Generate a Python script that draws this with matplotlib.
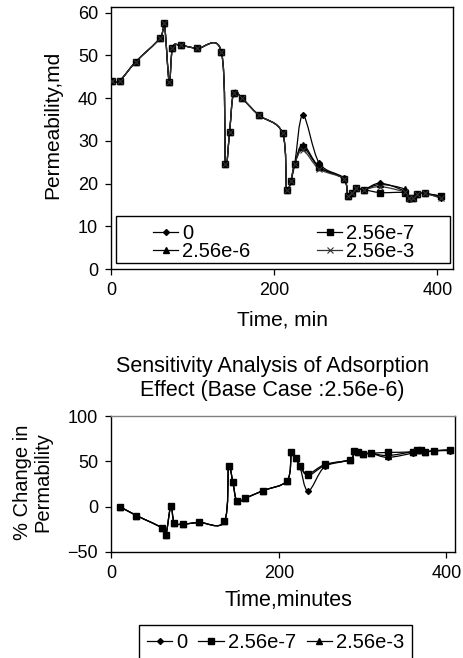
import numpy as np
import matplotlib
matplotlib.use('Agg')
import matplotlib.pyplot as plt
from matplotlib.path import Path
from matplotlib.patches import PathPatch, Rectangle
from matplotlib.lines import Line2D

plt.rcParams['font.family'] = ['Liberation Sans', 'DejaVu Sans']

# Data
time_min = [1, 10, 30, 60, 65, 71, 75, 85, 105, 135, 140, 145, 150, 160, 181, 210,
            215, 220, 225, 235, 255, 285, 290, 295, 300, 310, 330, 360, 365, 370,
            375, 385, 404]

perm_0 = [44, 44, 48.5, 54.1, 57.6, 43.7, 51.8, 52.3, 51.6, 50.8, 24.5, 32, 41.3, 40,
          36, 31.8, 18.6, 20.5, 24.6, 36.0, 24.8, 21.3, 17, 17.8, 19, 18.6, 20.1,
          18.2, 16.5, 16.7, 17.6, 17.7, 16.7]
perm_256e7 = [44, 44, 48.5, 54.1, 57.6, 43.7, 51.8, 52.3, 51.6, 50.8, 24.5, 32, 41.3, 40,
              36, 31.8, 18.6, 20.5, 24.6, 28.5, 23.8, 21.1, 17, 17.8, 19, 18.6, 17.9,
              17.9, 16.7, 16.7, 17.6, 17.7, 17.1]
perm_256e6 = [44, 44, 48.5, 54.1, 57.6, 43.7, 51.8, 52.3, 51.6, 50.8, 24.5, 32, 41.3, 40,
              36, 31.8, 18.6, 20.5, 24.6, 29.1, 23.9, 21.1, 17, 17.8, 19, 18.6, 19.8,
              18.7, 16.7, 16.7, 17.6, 17.7, 17.0]
perm_256e3 = [44, 44, 48.5, 54.1, 57.6, 43.7, 51.8, 52.3, 51.6, 50.8, 24.5, 32, 41.3, 40,
              36, 31.8, 18.6, 20.5, 24.6, 27.8, 23.4, 21.1, 17, 17.8, 19, 18.6, 19.3,
              18.0, 16.7, 16.7, 17.6, 17.7, 16.6]

# % change in permeability (bottom chart), starts at the second time point
pct_0 = [0, -10, -23.5, -32, 1, -18, -19.5, -17.6, -16.5, 45, 27, 5.6, 9.3, 17.6, 28.8,
         60, 54, 45, 17.2, 44.5, 52, 62, 60.5, 58, 59, 54.5, 59.5, 63, 63, 60.6, 61.8, 62]
pct_256e7 = [0, -10, -23.5, -32, 1, -18, -19.5, -17.6, -16.5, 45, 27, 5.6, 9.3, 17.6, 28.8,
             60, 54, 45, 36.3, 46.7, 52, 62, 60.5, 58, 59, 60, 60.6, 63, 63, 60.6, 61.8, 63]
pct_256e3 = [0, -10, -23.5, -32, 1, -18, -19.5, -17.6, -16.5, 45, 27, 5.6, 9.3, 17.6, 28.8,
             60, 54, 45, 34.5, 45.5, 52, 62, 60.5, 58, 59, 56.5, 61, 63, 63, 60.6, 61.8, 62.5]


def smooth_path(x, y):
    # Excel-style smoothed line: cubic Bezier segments through the data points
    pts = np.column_stack([x, y]).astype(float)
    n = len(pts)
    verts = [pts[0]]
    codes = [Path.MOVETO]
    for i in range(n - 1):
        p0 = pts[max(i - 1, 0)]
        p1 = pts[i]
        p2 = pts[i + 1]
        p3 = pts[min(i + 2, n - 1)]
        verts += [p1 + (p2 - p0) / 6, p2 - (p3 - p1) / 6, p2]
        codes += [Path.CURVE4] * 3
    return Path(verts, codes)


def draw_series(ax, x, y, marker, ms, color='black', mew=1.0):
    ax.add_patch(PathPatch(smooth_path(x, y), fill=False, edgecolor=color, lw=0.9,
                           transform=ax.transData, zorder=2))
    ax.plot(x, y, ls='none', marker=marker, ms=ms, color=color, mew=mew, zorder=3)
    return Line2D([], [], color=color, lw=0.9, marker=marker, ms=ms, mew=mew)


def style_axes(ax):
    ax.tick_params(direction='out', length=4.5, width=0.9, labelsize=13, pad=5,
                   top=False, right=False)
    for s in ax.spines.values():
        s.set_linewidth(1.0)


fig = plt.figure(figsize=(4.64, 6.58), dpi=100)

# ---- top chart: permeability vs time
ax1 = fig.add_axes([0.240, 0.591, 0.736, 0.399])
h0 = draw_series(ax1, time_min, perm_0, 'D', 3)
h7 = draw_series(ax1, time_min, perm_256e7, 's', 4.5)
h6 = draw_series(ax1, time_min, perm_256e6, '^', 4.5)
h3 = draw_series(ax1, time_min, perm_256e3, 'x', 4, color='#333333', mew=0.8)
ax1.set_xlim(0, 419)
ax1.set_ylim(0, 61.4)
ax1.set_xticks([0, 200, 400])
ax1.set_yticks(range(0, 61, 10))
style_axes(ax1)
ax1.set_xlabel('Time, min', fontsize=15)
ax1.xaxis.set_label_coords(0.5, -0.194)
ax1.xaxis.label.set_va('center')
ax1.set_ylabel('Permeability,md', fontsize=15)
ax1.yaxis.set_label_coords(-0.171, 0.548)
ax1.yaxis.label.set_va('center')

ax1.add_patch(Rectangle((0.014, 0.023), 0.977, 0.179, transform=ax1.transAxes,
                        facecolor='white', edgecolor='black', lw=1.0, zorder=4))
leg1 = ax1.legend([h0, h6, h7, h3], ['0', '2.56e-6', '2.56e-7', '2.56e-3'], ncol=2,
                  loc='center', bbox_to_anchor=(0.505, 0.103), frameon=False,
                  fontsize=14.5, handlelength=1.25, handletextpad=0.2,
                  columnspacing=3.3, labelspacing=-0.05, borderpad=0)
leg1.set_zorder(5)

# ---- bottom chart: % change in permeability
ax2 = fig.add_axes([0.240, 0.1616, 0.740, 0.2057])
g0 = draw_series(ax2, time_min[1:], pct_0, 'D', 3)
g7 = draw_series(ax2, time_min[1:], pct_256e7, 's', 4.2)
g3 = draw_series(ax2, time_min[1:], pct_256e3, '^', 4.2)
ax2.set_xlim(0, 410)
ax2.set_ylim(-50, 100)
ax2.set_xticks([0, 200, 400])
ax2.set_yticks([-50, 0, 50, 100])
style_axes(ax2)
ax2.spines['top'].set_color('#808080')
ax2.set_xlabel('Time,minutes', fontsize=15.5)
ax2.xaxis.set_label_coords(0.515, -0.364)
ax2.xaxis.label.set_va('center')
ax2.set_ylabel('% Change in\nPermability', fontsize=14.5, linespacing=1.05)
ax2.yaxis.set_label_coords(-0.229, 0.511)
ax2.yaxis.label.set_va('center')
ax2.set_title('Sensitivity Analysis of Adsorption\nEffect (Base Case :2.56e-6)',
              fontsize=15.5, x=0.468, y=1.279, va='center', linespacing=1.2, pad=0)

fig.legend([g0, g7, g3], ['0', '2.56e-7', '2.56e-3'], ncol=3, loc='upper left',
           bbox_to_anchor=(0.2996, 0.0502), borderaxespad=0, fontsize=14.5,
           handlelength=1.25, handletextpad=0.2, columnspacing=0.55, borderpad=0.4,
           fancybox=False, edgecolor='black', framealpha=1)

fig.savefig('out.png', dpi=100)
